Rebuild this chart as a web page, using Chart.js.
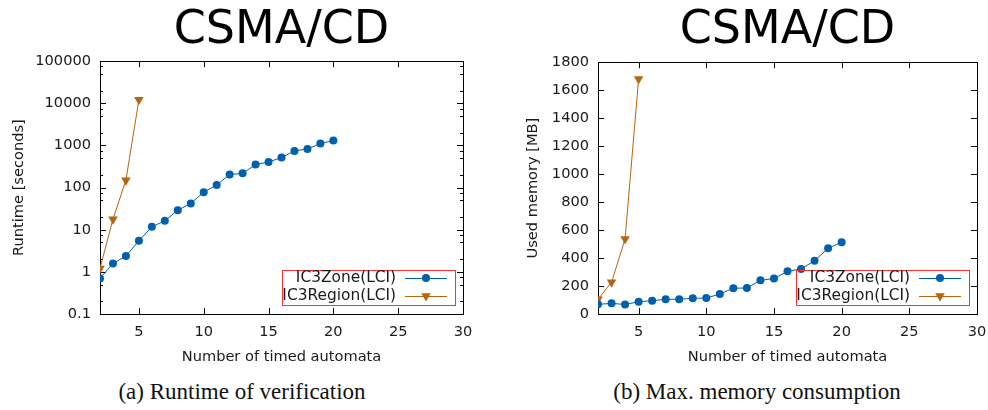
<!DOCTYPE html>
<html>
<head>
<meta charset="utf-8">
<script src="https://cdn.jsdelivr.net/npm/chart.js@4.4.1/dist/chart.umd.min.js"></script>
<style>
    body { margin: 0; background: #fff; width: 988px; height: 410px; position: relative; overflow: hidden; }
    .panel { position: absolute; top: 0; width: 494px; height: 370px; }
    #panel-a { left: 0; }
    #panel-b { left: 494px; }
    .caption { position: absolute; top: 379px; transform: translateX(-50%); white-space: nowrap;
               font-family: 'Liberation Serif', serif; font-size: 23px; color: #111; }
</style>
</head>
<body>
<div class="panel" id="panel-a"><canvas id="runtimeChart"></canvas></div>
<div class="panel" id="panel-b"><canvas id="memoryChart"></canvas></div>
<div class="caption" style="left:242px">(a) Runtime of verification</div>
<div class="caption" style="left:757px">(b) Max. memory consumption</div>
<script>
// number of timed automata
const zoneAutomata = [2, 3, 4, 5, 6, 7, 8, 9, 10, 11, 12, 13, 14, 15, 16, 17, 18, 19, 20];
const regionAutomata = [2, 3, 4, 5];

// runtime [s]
const zoneRuntime = [0.70, 1.58, 2.37, 5.46, 11.7, 16.3, 29, 42, 78, 115, 204, 218, 352, 405, 516, 741, 826, 1110, 1306];
const regionRuntime = [1.21, 17.8, 150, 12200];

// used memory [MB]
const zoneMemory = [69, 76, 68, 88, 95, 105, 105, 112, 114, 143, 184, 186, 241, 253, 305, 322, 381, 470, 513];
const regionMemory = [105, 227, 536, 1680];

// tick labels
const xTicks = [5, 10, 15, 20, 25, 30];
const runtimeTicks = [0.1, 1, 10, 100, 1000, 10000, 100000];
const runtimeMinor = [2, 5, 7.5];
const memoryTicks = [0, 200, 400, 600, 800, 1000, 1200, 1400, 1600, 1800];

const seriesNames = ['IC3Zone(LCI)', 'IC3Region(LCI)'];
const BLUE = '#0060ad';
const ORANGE = '#b5660f';
const FONT_SIZE = 14.6;

Chart.defaults.font.family = "'DejaVu Sans', sans-serif";
Chart.defaults.color = '#1a1a1a';

const pairs = (xs, ys) => xs.map((x, i) => ({ x: x, y: ys[i] }));

// gnuplot style frame: full border, inward ticks mirrored on all sides, boxed legend
const gnuplotFrame = {
    id: 'gnuplotFrame',
    beforeDatasetsDraw(chart) {
        const { ctx, chartArea: a, scales } = chart;
        const opts = chart.options.plugins.gnuplotFrame;
        ctx.save();
        ctx.strokeStyle = '#000';
        ctx.lineWidth = 1;
        ctx.strokeRect(Math.round(a.left) + 0.5, Math.round(a.top) + 0.5, Math.round(a.right - a.left), Math.round(a.bottom - a.top));
        ctx.beginPath();
        xTicks.forEach(v => {
            const px = Math.round(scales.x.getPixelForValue(v)) + 0.5;
            ctx.moveTo(px, a.bottom); ctx.lineTo(px, a.bottom - 6);
            ctx.moveTo(px, a.top); ctx.lineTo(px, a.top + 6);
        });
        const yTick = (v, len) => {
            const py = Math.round(scales.y.getPixelForValue(v)) + 0.5;
            ctx.moveTo(a.left, py); ctx.lineTo(a.left + len, py);
            ctx.moveTo(a.right, py); ctx.lineTo(a.right - len, py);
        };
        opts.yTicks.forEach(v => yTick(v, 6));
        if (opts.log) {
            opts.yTicks.slice(0, -1).forEach(d => runtimeMinor.forEach(m => yTick(d * m, 3)));
        }
        ctx.stroke();
        ctx.restore();
    },
    afterDatasetsDraw(chart) {
        const { ctx, chartArea: a } = chart;
        ctx.save();
        ctx.strokeStyle = '#ff3030';
        ctx.lineWidth = 1;
        ctx.strokeRect(Math.round(a.right - 181) + 0.5, Math.round(a.bottom - 44) + 0.5, 173, 35);
        ctx.font = "15.4px 'DejaVu Sans'";
        ctx.textAlign = 'right';
        ctx.textBaseline = 'middle';
        chart.data.datasets.forEach((ds, i) => {
            const y = a.bottom - 36 + i * 18;
            ctx.fillStyle = '#1a1a1a';
            ctx.fillText(ds.label, a.right - 67, y);
            ctx.strokeStyle = ds.borderColor;
            ctx.beginPath();
            ctx.moveTo(a.right - 58, y + 0.5); ctx.lineTo(a.right - 16, y + 0.5);
            ctx.stroke();
            ctx.fillStyle = ds.backgroundColor;
            Chart.helpers.drawPoint(ctx, {
                pointStyle: ds.pointStyle, rotation: ds.rotation, radius: ds.pointRadius, borderWidth: 0
            }, a.right - 37, y);
        });
        ctx.restore();
    }
};

function makeDataset(label, data, color, style) {
    return {
        label: label,
        data: data,
        borderColor: color,
        backgroundColor: color,
        borderWidth: 1,
        pointStyle: style,
        rotation: style === 'triangle' ? 180 : 0,
        pointRadius: style === 'triangle' ? 5.5 : 4,
        pointBorderWidth: 0,
        tension: 0
    };
}

function makeChart(canvasId, zoneData, regionData, yOpts, yWidth, yTitle, yTitlePad, rightPad, titlePadBottom, frameOpts) {
    return new Chart(document.getElementById(canvasId), {
        type: 'line',
        data: {
            datasets: [
                makeDataset(seriesNames[0], pairs(zoneAutomata, zoneData), BLUE, 'circle'),
                makeDataset(seriesNames[1], pairs(regionAutomata, regionData), ORANGE, 'triangle')
            ]
        },
        options: {
            responsive: true,
            maintainAspectRatio: false,
            animation: false,
            layout: { padding: { left: 0, right: rightPad, top: 0, bottom: 0 } },
            plugins: {
                legend: { display: false },
                tooltip: { enabled: false },
                title: {
                    display: true,
                    text: 'CSMA/CD',
                    fullSize: false,
                    color: '#000',
                    font: { size: 46, weight: 'normal', lineHeight: 1.2 },
                    padding: { top: 3, bottom: titlePadBottom }
                },
                gnuplotFrame: frameOpts
            },
            scales: {
                x: {
                    type: 'linear',
                    min: 2,
                    max: 30,
                    grid: { display: false, drawTicks: false },
                    border: { display: false },
                    afterBuildTicks: s => { s.ticks = xTicks.map(v => ({ value: v })); },
                    afterFit: s => { s.height = 56; s.paddingLeft = 0; s.paddingRight = 0; },
                    ticks: { font: { size: FONT_SIZE }, padding: 9, maxRotation: 0 },
                    title: { display: true, text: 'Number of timed automata', font: { size: FONT_SIZE }, padding: { top: 0, bottom: 4 } }
                },
                y: Object.assign({
                    grid: { display: false, drawTicks: false },
                    border: { display: false },
                    afterFit: s => { s.width = yWidth; },
                    ticks: { font: { size: FONT_SIZE }, padding: 9, callback: v => String(v) },
                    title: { display: true, text: yTitle, font: { size: FONT_SIZE }, padding: { top: yTitlePad, bottom: 0 } }
                }, yOpts)
            }
        },
        plugins: [gnuplotFrame]
    });
}

makeChart('runtimeChart', zoneRuntime, regionRuntime, {
    type: 'logarithmic',
    min: 0.1,
    max: 100000,
    afterBuildTicks: s => { s.ticks = runtimeTicks.map(v => ({ value: v })); }
}, 100, 'Runtime [seconds]', 10, 31, 3, { yTicks: runtimeTicks, log: true });

makeChart('memoryChart', zoneMemory, regionMemory, {
    type: 'linear',
    min: 0,
    max: 1800,
    afterBuildTicks: s => { s.ticks = memoryTicks.map(v => ({ value: v })); }
}, 104, 'Used memory [MB]', 30, 11, 4, { yTicks: memoryTicks, log: false });
</script>
</body>
</html>
